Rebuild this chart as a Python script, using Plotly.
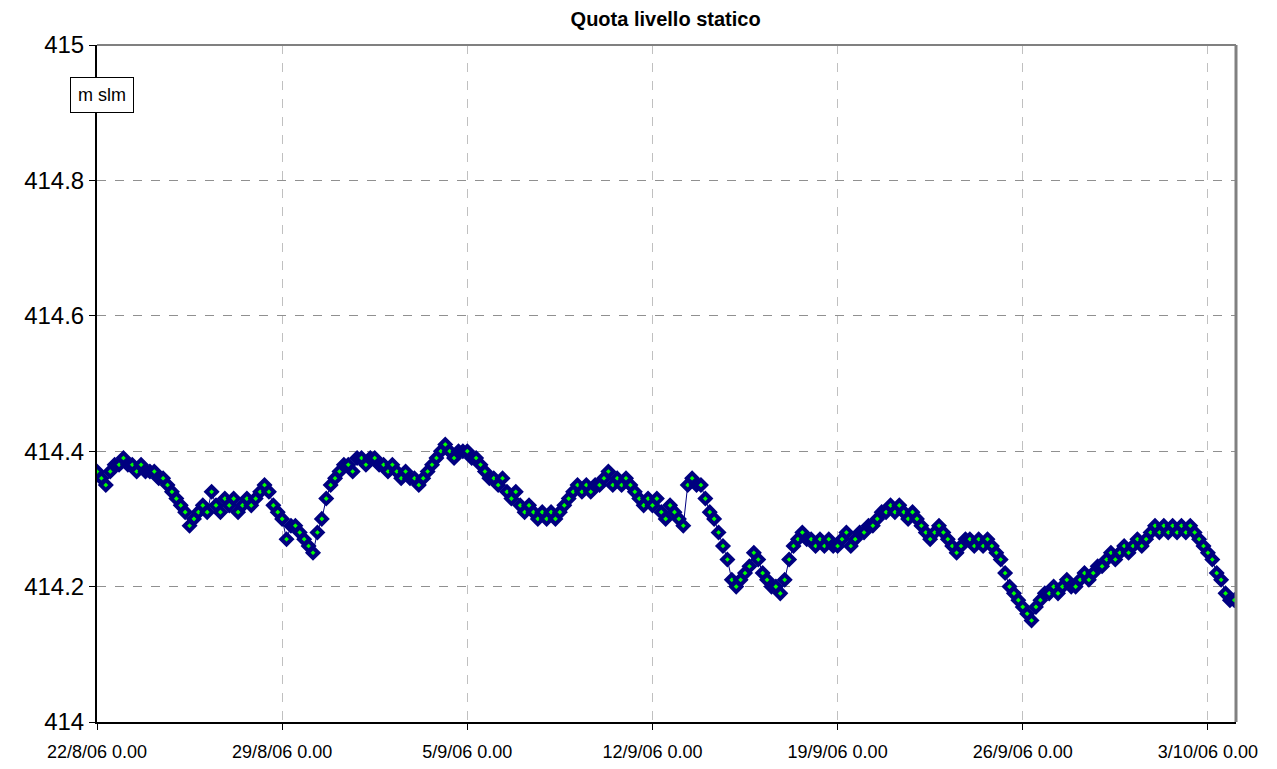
"""Quota livello statico - static water level, 22/8/06 to 4/10/06."""

import pandas as pd
import plotly.graph_objects as go

# readings every 4 hours (m slm), one list per week starting 22/8/06 0.00
week1 = [
    414.37, 414.36, 414.35, 414.37, 414.38, 414.38,
    414.39, 414.38, 414.38, 414.37, 414.38, 414.37,
    414.37, 414.37, 414.36, 414.36, 414.35, 414.34,
    414.33, 414.32, 414.31, 414.29, 414.30, 414.31,
    414.32, 414.31, 414.34, 414.32, 414.31, 414.33,
    414.32, 414.33, 414.31, 414.32, 414.33, 414.32,
    414.33, 414.34, 414.35, 414.34, 414.32, 414.31,
]
week2 = [
    414.30, 414.27, 414.29, 414.29, 414.28, 414.27,
    414.26, 414.25, 414.28, 414.30, 414.33, 414.35,
    414.36, 414.37, 414.38, 414.38, 414.37, 414.39,
    414.39, 414.38, 414.39, 414.39, 414.38, 414.38,
    414.37, 414.38, 414.37, 414.36, 414.37, 414.36,
    414.36, 414.35, 414.36, 414.37, 414.38, 414.39,
    414.40, 414.41, 414.40, 414.39, 414.40, 414.40,
]
week3 = [
    414.40, 414.39, 414.39, 414.38, 414.37, 414.36,
    414.36, 414.35, 414.36, 414.34, 414.33, 414.34,
    414.32, 414.31, 414.32, 414.31, 414.30, 414.31,
    414.30, 414.31, 414.30, 414.31, 414.32, 414.33,
    414.34, 414.35, 414.34, 414.35, 414.34, 414.35,
    414.35, 414.36, 414.37, 414.35, 414.36, 414.35,
    414.36, 414.35, 414.34, 414.33, 414.32, 414.33,
]
week4 = [
    414.32, 414.33, 414.31, 414.30, 414.32, 414.31,
    414.30, 414.29, 414.35, 414.36, 414.35, 414.35,
    414.33, 414.31, 414.30, 414.28, 414.26, 414.24,
    414.21, 414.20, 414.21, 414.22, 414.23, 414.25,
    414.24, 414.22, 414.21, 414.20, 414.20, 414.19,
    414.21, 414.24, 414.26, 414.27, 414.28, 414.27,
    414.27, 414.26, 414.27, 414.26, 414.27, 414.26,
]
week5 = [
    414.26, 414.27, 414.28, 414.26, 414.27, 414.28,
    414.28, 414.29, 414.29, 414.30, 414.31, 414.31,
    414.32, 414.31, 414.32, 414.31, 414.30, 414.31,
    414.30, 414.29, 414.28, 414.27, 414.28, 414.29,
    414.28, 414.27, 414.26, 414.25, 414.26, 414.27,
    414.27, 414.26, 414.27, 414.26, 414.27, 414.26,
    414.25, 414.24, 414.22, 414.20, 414.19, 414.18,
]
week6 = [
    414.17, 414.16, 414.15, 414.17, 414.18, 414.19,
    414.19, 414.20, 414.19, 414.20, 414.21, 414.20,
    414.20, 414.21, 414.22, 414.21, 414.22, 414.23,
    414.23, 414.24, 414.25, 414.24, 414.25, 414.26,
    414.25, 414.26, 414.27, 414.26, 414.27, 414.28,
    414.29, 414.28, 414.29, 414.28, 414.29, 414.28,
    414.29, 414.28, 414.29, 414.28, 414.27, 414.26,
]
week7 = [
    414.25, 414.24, 414.22, 414.21, 414.19, 414.18,
    414.18,
]

levels = week1 + week2 + week3 + week4 + week5 + week6 + week7
times = pd.date_range("2006-08-22 00:00", periods=len(levels), freq="4h")

fig = go.Figure()

fig.add_trace(go.Scatter(
    x=times,
    y=levels,
    mode="lines+markers",
    line=dict(color="#000080", width=1),
    marker=dict(
        symbol="diamond",
        size=8,
        color="#00ff00",
        line=dict(color="#000080", width=4),
    ),
    showlegend=False,
))

# grey frame on top and right of the plot area (Excel style)
fig.add_shape(type="line", xref="paper", yref="paper", x0=0, x1=1, y0=1, y1=1,
              line=dict(color="#808080", width=2))
fig.add_shape(type="line", xref="paper", yref="paper", x0=1, x1=1, y0=0, y1=1,
              line=dict(color="#808080", width=3))

fig.add_annotation(
    text="m slm", xref="paper", yref="paper", x=0.004, y=0.926,
    xanchor="center", yanchor="middle",
    showarrow=False, bgcolor="white", bordercolor="black", borderwidth=1,
    borderpad=7, font=dict(size=18, color="black"),
)

# page has an 8px body margin, so the figure is 16px smaller than the window
fig.update_layout(
    title=dict(text="<b>Quota livello statico</b>", x=0.5215, xanchor="center",
               y=0.986, yanchor="middle", font=dict(size=20, color="black")),
    width=1261,
    height=753,
    plot_bgcolor="white",
    paper_bgcolor="white",
    font=dict(family="Liberation Sans, Arial, sans-serif", color="black"),
    margin=dict(l=89, r=33, t=37, b=39),
    xaxis=dict(
        range=["2006-08-22 00:00", "2006-10-04 01:30"],
        tick0="2006-08-22",
        dtick=7 * 24 * 3600 * 1000,
        tickformat="%-d/%-m/%y %-H.%M",
        tickfont=dict(size=18),
        ticks="outside", ticklen=6, tickcolor="black",
        ticklabelstandoff=6,
        showline=True, linecolor="black", linewidth=2,
        showgrid=True, gridcolor="#c0c0c0", griddash="dash", gridwidth=1,
        zeroline=False, automargin=False,
    ),
    yaxis=dict(
        range=[414, 415],
        dtick=0.2,
        tickfont=dict(size=24),
        ticks="outside", ticklen=6, tickcolor="black",
        showline=True, linecolor="black", linewidth=2,
        showgrid=True, gridcolor="#909090", griddash="dash", gridwidth=1,
        zeroline=False, automargin=False,
    ),
)

fig.write_html("out.html")
